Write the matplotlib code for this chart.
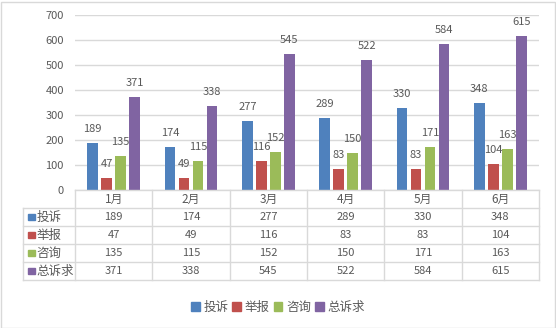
import matplotlib.pyplot as plt
from matplotlib.patches import Rectangle

plt.rcParams['font.family'] = ['Noto Sans CJK SC', 'DejaVu Sans']

months = ['1月', '2月', '3月', '4月', '5月', '6月']
series = ['投诉', '举报', '咨询', '总诉求']
tousu = [189, 174, 277, 289, 330, 348]
jubao = [47, 49, 116, 83, 83, 104]
zixun = [135, 115, 152, 150, 171, 163]
zong = [371, 338, 545, 522, 584, 615]
values = [tousu, jubao, zixun, zong]
colors = ['#4F81BD', '#C0504D', '#9BBB59', '#8064A2']

W, H = 556, 328
txt = '#595959'
grid = '#D9D9D9'

fig = plt.figure(figsize=(W / 100, H / 100), dpi=100)
# outer chart border
fig.patches.append(Rectangle((0.5 / W, 0.5 / H), 1 - 2 / W, 1 - 2 / H, transform=fig.transFigure,
                             fill=False, edgecolor=grid, lw=1))

# main plot area
x0, x1, ytop, ybot = 75, 539, 15, 190
ax = fig.add_axes([x0 / W, 1 - ybot / H, (x1 - x0) / W, (ybot - ytop) / H])
ax.set_xlim(0, 6)
ax.set_ylim(0, 700)
ax.set_yticks(range(0, 701, 100))
ax.set_xticks([])
ax.grid(axis='y', color=grid, lw=1)
ax.set_axisbelow(True)
for s in ax.spines.values():
    s.set_visible(False)
ax.tick_params(axis='y', length=0, pad=8, labelsize=8, labelcolor=txt)

bw = 0.142
step = 0.181
for i, (vals, c) in enumerate(zip(values, colors)):
    xs = [m + 0.5 + (i - 1.5) * step for m in range(6)]
    ax.bar(xs, vals, width=bw, color=c, zorder=2)
    for x, v in zip(xs, vals):
        ax.annotate(str(v), (x, v), xytext=(0, 10), textcoords='offset points',
                    ha='center', va='center', fontsize=8, color=txt)

# data table
tx0, ty1 = 23, 280
lw_col = (x0 - tx0) / ((x1 - x0) / 6)
tab = fig.add_axes([tx0 / W, 1 - ty1 / H, (x1 - tx0) / W, (ty1 - ybot) / H])
tab.set_xlim(-lw_col, 6)
tab.set_ylim(5, 0)
tab.axis('off')
lk = dict(color=grid, lw=1, clip_on=False)
tab.plot([0, 6], [0, 0], **lk)
for r in range(1, 6):
    tab.plot([-lw_col, 6], [r, r], **lk)
tab.plot([-lw_col, -lw_col], [1, 5], **lk)
for cidx in range(7):
    tab.plot([cidx, cidx], [0, 5], **lk)
for cidx, m in enumerate(months):
    tab.text(cidx + 0.5, 0.5, m, ha='center', va='center', fontsize=8.5, color=txt)
for r, (name, vals, c) in enumerate(zip(series, values, colors), start=1):
    tab.add_patch(Rectangle((-lw_col + 0.06, r + 0.32), 0.09, 0.36, color=c, clip_on=False))
    tab.text(-lw_col + 0.17, r + 0.5, name, ha='left', va='center', fontsize=9, color=txt)
    for cidx, v in enumerate(vals):
        tab.text(cidx + 0.5, r + 0.5, str(v), ha='center', va='center', fontsize=8, color=txt)

# legend
handles = [Rectangle((0, 0), 1, 1, color=c) for c in colors]
fig.legend(handles, series, loc='center', bbox_to_anchor=(278 / W, 1 - 307 / H), ncol=4,
           frameon=False, fontsize=9, handlelength=0.7, handleheight=0.7,
           handletextpad=0.3, columnspacing=0.3, labelcolor=txt)

fig.savefig('out.png', dpi=100)
